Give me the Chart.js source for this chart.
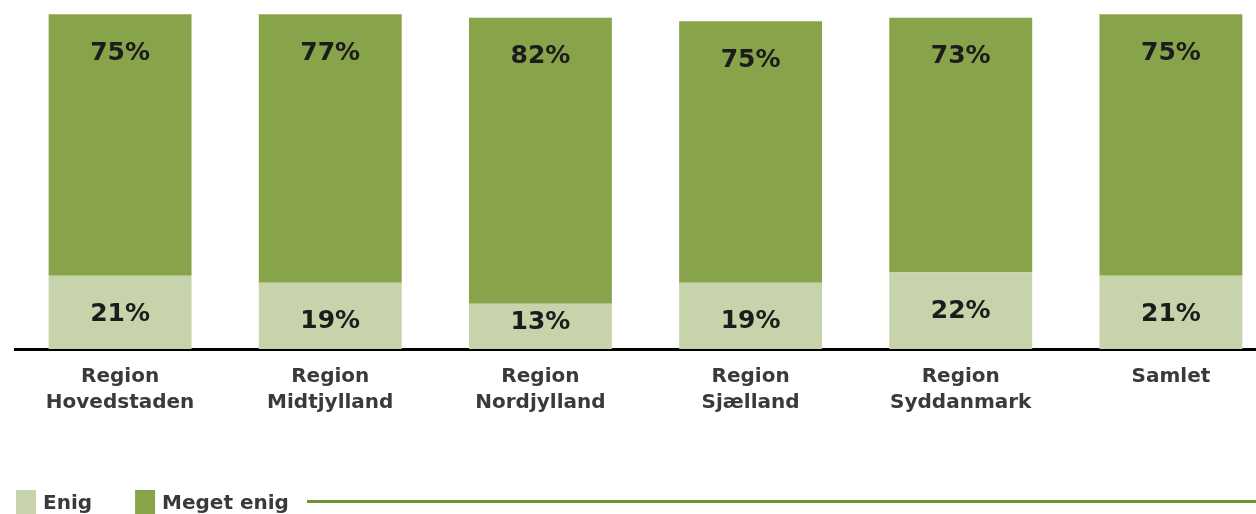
<!DOCTYPE html>
<html>
<head>
<meta charset="utf-8">
<script src="https://cdn.jsdelivr.net/npm/chart.js@4.4.1/dist/chart.umd.min.js"></script>
<style>
  html, body { margin: 0; padding: 0; background: #fff; overflow: hidden; }
  #wrap { width: 1276px; height: 514px; position: relative; }
</style>
</head>
<body>
<div id="wrap"><canvas id="c"></canvas></div>
<script>
const categories = [
  ['Region', 'Hovedstaden'],
  ['Region', 'Midtjylland'],
  ['Region', 'Nordjylland'],
  ['Region', 'Sjælland'],
  ['Region', 'Syddanmark'],
  ['Samlet']
];
const seriesNames = ['Enig', 'Meget enig'];
const enig = [21, 19, 13, 19, 22, 21];
const megetEnig = [75, 77, 82, 75, 73, 75];
const seriesColors = ['#c7d3aa', '#88a44a'];

const valueLabels = {
  id: 'valueLabels',
  afterDatasetsDraw(chart) {
    const ctx = chart.ctx;
    const bottom = chart.chartArea.bottom;
    ctx.save();
    ctx.font = 'bold 25px "DejaVu Sans"';
    ctx.fillStyle = '#1c1c1c';
    ctx.textAlign = 'center';
    ctx.textBaseline = 'middle';
    chart.data.datasets.forEach((ds, di) => {
      const meta = chart.getDatasetMeta(di);
      meta.data.forEach((bar, i) => {
        let y = bar.y + 39;
        if (di === 0) y = Math.min(y, bottom - 27);
        ctx.fillText(ds.data[i] + '%', bar.x, y);
      });
    });
    ctx.restore();
  }
};

const customLegend = {
  id: 'customLegend',
  afterDraw(chart) {
    const ctx = chart.ctx;
    ctx.save();
    ctx.font = 'bold 20px "DejaVu Sans"';
    ctx.textBaseline = 'alphabetic';
    ctx.textAlign = 'left';
    let x = 16;
    chart.data.datasets.forEach((ds) => {
      ctx.fillStyle = ds.backgroundColor;
      ctx.fillRect(x, 490, 20, 24);
      ctx.fillStyle = '#3a3a3a';
      ctx.fillText(ds.label, x + 27, 509);
      x += 27 + ctx.measureText(ds.label).width + 43;
    });
    ctx.strokeStyle = '#6e9430';
    ctx.lineWidth = 3;
    ctx.beginPath();
    ctx.moveTo(307, 501.5);
    ctx.lineTo(chart.width, 501.5);
    ctx.stroke();
    ctx.restore();
  }
};

new Chart(document.getElementById('c'), {
  type: 'bar',
  data: {
    labels: categories,
    datasets: [
      { label: seriesNames[0], data: enig, backgroundColor: seriesColors[0] },
      { label: seriesNames[1], data: megetEnig, backgroundColor: seriesColors[1] }
    ]
  },
  options: {
    responsive: true,
    maintainAspectRatio: false,
    animation: false,
    layout: { padding: { top: 2, left: 15, right: 0, bottom: 0 } },
    datasets: { bar: { barPercentage: 0.68, categoryPercentage: 1, borderWidth: 0 } },
    plugins: { legend: { display: false }, tooltip: { enabled: false } },
    scales: {
      x: {
        stacked: true,
        grid: { display: false, drawTicks: false },
        border: { display: true, color: '#000', width: 3 },
        ticks: {
          color: '#3a3a3a',
          padding: 15,
          font: { family: 'DejaVu Sans', size: 20, weight: 'bold', lineHeight: 1.3 },
          maxRotation: 0,
          autoSkip: false
        },
        afterFit(axis) { axis.height = 165; }
      },
      y: {
        stacked: true,
        display: false,
        min: 0,
        max: 99.5
      }
    }
  },
  plugins: [valueLabels, customLegend]
});
</script>
</body>
</html>
